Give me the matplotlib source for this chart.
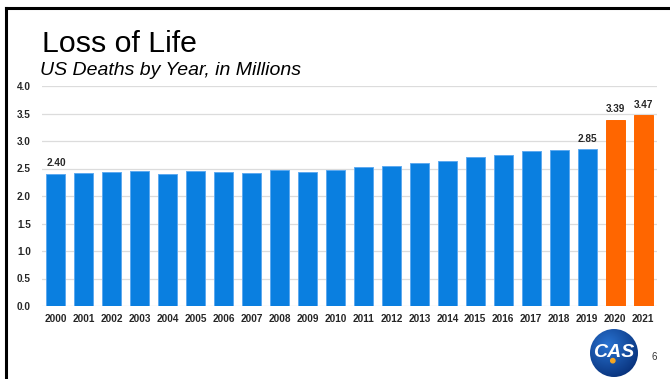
import numpy as np
import matplotlib.pyplot as plt
from matplotlib.patches import Circle
from matplotlib.lines import Line2D

plt.rcParams['font.family'] = ['Liberation Sans', 'DejaVu Sans']

# US deaths per year, in millions
years = ['2000', '2001', '2002', '2003', '2004', '2005', '2006', '2007',
         '2008', '2009', '2010', '2011', '2012', '2013', '2014', '2015',
         '2016', '2017', '2018', '2019', '2020', '2021']
deaths = [2.40, 2.42, 2.44, 2.45, 2.40, 2.45, 2.43, 2.42, 2.47, 2.44, 2.47,
          2.52, 2.54, 2.60, 2.63, 2.71, 2.74, 2.81, 2.84, 2.85, 3.39, 3.47]
pandemic_years = ['2020', '2021']
labelled_years = ['2000', '2019', '2020', '2021']
y_ticks = [0.0, 0.5, 1.0, 1.5, 2.0, 2.5, 3.0, 3.5, 4.0]

BLUE = '#0a7fe0'
BLUE_EDGE = '#5eaaf0'
ORANGE = '#ff6600'

W, H = 670, 379
fig = plt.figure(figsize=(W / 100, H / 100), dpi=100)
fig.patch.set_facecolor('white')

# Slide frame (top and left rules)
fig.add_artist(Line2D([5.5 / W, 5.5 / W], [0, 1 - 8 / H], color='black',
                      lw=2.2, transform=fig.transFigure, solid_capstyle='projecting'))
fig.add_artist(Line2D([5.5 / W, 1], [1 - 8 / H, 1 - 8 / H], color='black',
                      lw=2.2, transform=fig.transFigure, solid_capstyle='projecting'))

# Titles
fig.text(42 / W, 1 - 52 / H, 'Loss of Life', fontsize=21.8, ha='left',
         va='baseline', color='black')
fig.text(40 / W, 1 - 75 / H, 'US Deaths by Year, in Millions', fontsize=14,
         style='italic', ha='left', va='baseline', color='black')

# Bar chart
ax = fig.add_axes([42 / W, 1 - 306 / H, 615 / W, 220 / H])
x = np.arange(len(years))
colors = [ORANGE if y in pandemic_years else BLUE for y in years]
edges = [ORANGE if y in pandemic_years else BLUE_EDGE for y in years]
ax.bar(x, deaths, width=0.68, color=colors, edgecolor=edges, linewidth=0.7,
       zorder=3)

for xi, y, v in zip(x, years, deaths):
    if y in labelled_years:
        ax.annotate(f'{v:.2f}', (xi, v), xytext=(0, 4), textcoords='offset points',
                    ha='center', va='bottom', fontsize=7.2, fontweight='bold',
                    color='#262626')

ax.set_xlim(-0.5, len(years) - 0.5)
ax.set_ylim(0, 4.0)
ax.set_yticks(y_ticks)
ax.set_yticklabels([f'{t:.1f}' for t in y_ticks])
ax.set_xticks(x)
ax.set_xticklabels(years)
ax.tick_params(axis='both', length=0, labelsize=7.2, labelcolor='#262626')
ax.tick_params(axis='y', pad=8)
ax.tick_params(axis='x', pad=6)
for lab in ax.get_xticklabels() + ax.get_yticklabels():
    lab.set_fontweight('bold')
ax.grid(axis='y', color='#dcdcdc', lw=0.9, zorder=0)
ax.set_axisbelow(True)
for s in ax.spines.values():
    s.set_visible(False)
ax.patch.set_alpha(0)

# CAS logo
lx, ly, lr = 614, 353, 24
lax = fig.add_axes([(lx - lr) / W, 1 - (ly + lr) / H, 2 * lr / W, 2 * lr / H])
lax.set_xlim(-1, 1)
lax.set_ylim(-1, 1)
lax.axis('off')
gx, gy = np.meshgrid(np.linspace(-1, 1, 200), np.linspace(-1, 1, 200))
rr = np.sqrt((gx + 0.25) ** 2 + (gy - 0.35) ** 2)
c0 = np.array([0.16, 0.45, 0.82])
c1 = np.array([0.02, 0.17, 0.45])
t = np.clip(rr / 1.6, 0, 1)[..., None]
img = c0 * (1 - t) + c1 * t
im = lax.imshow(img, extent=(-1, 1, -1, 1), origin='lower', interpolation='bilinear')
clip = Circle((0, 0), 1, transform=lax.transData)
im.set_clip_path(clip)
lax.text(0.0, 0.02, 'CAS', color='white', fontsize=14, fontweight='bold',
         style='italic', ha='center', va='center')
lax.add_patch(Circle((-0.05, -0.32), 0.09, color='#f5a623', zorder=5))

fig.text(654 / W, 1 - 357 / H, '6', fontsize=7, ha='center', va='center',
         color='#333333')

fig.savefig('out.png', dpi=100)
